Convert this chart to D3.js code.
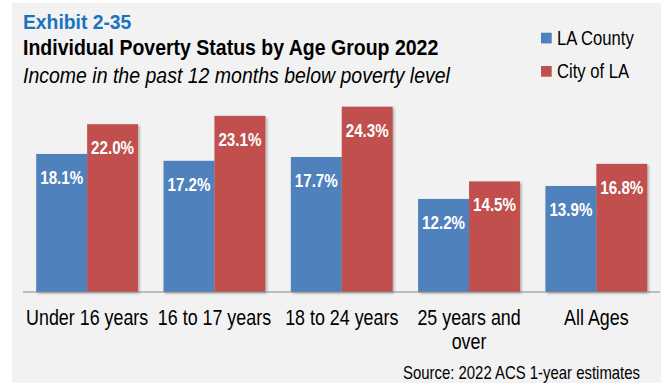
<!DOCTYPE html>
<html>
<head>
<meta charset="utf-8">
<script src="https://cdn.jsdelivr.net/npm/d3@7"></script>
<style>
  html, body { margin: 0; padding: 0; background: #ffffff; }
  svg { display: block; }
  text { font-family: "Liberation Sans", Arial, sans-serif; }
</style>
</head>
<body>
<svg id="chart" width="661" height="383"></svg>
<script>
// Poverty rates (%) by age group, 2022
const categories = [["Under 16 years"], ["16 to 17 years"], ["18 to 24 years"], ["25 years and", "over"], ["All Ages"]];
const seriesNames = ["LA County", "City of LA"];
const laCounty = [18.1, 17.2, 17.7, 12.2, 13.9];
const cityOfLA = [22.0, 23.1, 24.3, 14.5, 16.8];
const yMax = 30;

const colors = { "LA County": "#4f81bd", "City of LA": "#c0504d" };
const NARROW = 0.82;   // condensed face for chart text
const TITLE_SX = 0.92; // slight condensing for heading lines

const svg = d3.select("#chart");
const W = 661, H = 383;

// panel background
svg.append("rect").attr("x", 12).attr("y", 3).attr("width", W - 12).attr("height", H - 3).attr("fill", "#f2f2f2");

// soft drop shadow for bars
const defs = svg.append("defs");
const f = defs.append("filter").attr("id", "shadow").attr("x", "-10%").attr("y", "-10%").attr("width", "130%").attr("height", "130%");
f.append("feDropShadow").attr("dx", 1.5).attr("dy", 1.5).attr("stdDeviation", 1.2).attr("flood-color", "#000").attr("flood-opacity", 0.3);

function stext(parent, x, y, str, opts) {
  const sx = opts.sx || NARROW;
  const g = parent.append("g").attr("transform", `translate(${x},${y}) scale(${sx},1)`);
  return g.append("text")
    .attr("text-anchor", opts.anchor || "start")
    .attr("font-size", opts.size)
    .attr("font-weight", opts.weight || "normal")
    .attr("font-style", opts.style || "normal")
    .attr("fill", opts.fill || "#000")
    .text(str);
}

// headings
stext(svg, 23, 29.3, "Exhibit 2-35", { sx: TITLE_SX, size: 21, weight: "bold", fill: "#1a73c2" });
stext(svg, 23, 55, "Individual Poverty Status by Age Group 2022", { sx: TITLE_SX, size: 21.2, weight: "bold" });
stext(svg, 23, 83.3, "Income in the past 12 months below poverty level", { sx: TITLE_SX, size: 21.2, style: "italic" });

// scales
const baseY = 292;
const x0 = d3.scaleBand().domain(d3.range(categories.length)).range([23.5, 660]).paddingInner(0.2).paddingOuter(0.1);
const x1 = d3.scaleBand().domain(seriesNames).range([0, x0.bandwidth()]);
const y = d3.scaleLinear().domain([0, yMax]).range([baseY, 63.2]);

const rows = categories.map((c, i) => ({ i, vals: [
  { name: "LA County", v: laCounty[i] },
  { name: "City of LA", v: cityOfLA[i] }
]}));

const groups = svg.append("g").selectAll("g").data(rows).join("g")
  .attr("transform", d => `translate(${x0(d.i)},0)`);

groups.selectAll("rect").data(d => d.vals).join("rect")
  .attr("x", d => x1(d.name))
  .attr("y", d => y(d.v))
  .attr("width", x1.bandwidth())
  .attr("height", d => y(0) - y(d.v))
  .attr("fill", d => colors[d.name])
  .attr("filter", "url(#shadow)");

// value labels inside bar tops
groups.each(function(d) {
  const g = d3.select(this);
  d.vals.forEach(v => {
    stext(g, x1(v.name) + x1.bandwidth() / 2, y(v.v) + 30, v.v.toFixed(1) + "%",
      { anchor: "middle", size: 18.5, weight: "bold", fill: "#ffffff" });
  });
});

// category axis
const axis = svg.append("g").attr("transform", `translate(0,${baseY})`)
  .call(d3.axisBottom(x0).tickSize(0).tickFormat(""));
axis.select(".domain").attr("stroke", "#888888").attr("stroke-width", 1.2).attr("d", "M23,0H660");
axis.selectAll(".tick").each(function(i) {
  const t = d3.select(this);
  categories[i].forEach((line, k) => {
    stext(t, 0, 33 + k * 24, line, { anchor: "middle", size: 21.8 });
  });
});

// legend
const legend = svg.append("g");
seriesNames.forEach((n, k) => {
  const ly = 32.7 + k * 33.3;
  legend.append("rect").attr("x", 541).attr("y", ly).attr("width", 10.7).attr("height", 10.7).attr("fill", colors[n]);
  stext(legend, 557, ly + 12.3, n, { size: 20.3 });
});

// source note
stext(svg, 640, 378.5, "Source: 2022 ACS 1-year estimates", { anchor: "end", size: 18.2 });
</script>
</body>
</html>
